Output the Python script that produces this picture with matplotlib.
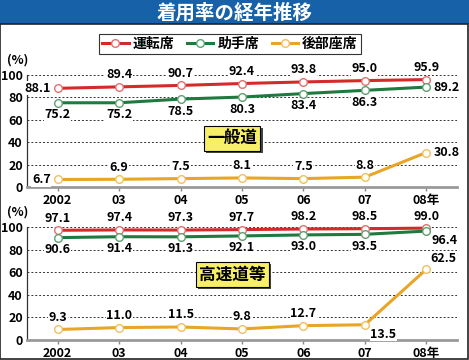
import matplotlib
matplotlib.use("Agg")
import matplotlib.pyplot as plt
import matplotlib.patheffects as pe
from matplotlib.lines import Line2D
from matplotlib.patches import Rectangle

plt.rcParams['font.family'] = ['Noto Sans CJK JP', 'DejaVu Sans']
plt.rcParams['font.weight'] = 'bold'

years = ["2002", "03", "04", "05", "06", "07", "08年"]
series_names = ["運転席", "助手席", "後部座席"]

general_driver = [88.1, 89.4, 90.7, 92.4, 93.8, 95.0, 95.9]
general_passenger = [75.2, 75.2, 78.5, 80.3, 83.4, 86.3, 89.2]
general_rear = [6.7, 6.9, 7.5, 8.1, 7.5, 8.8, 30.8]

highway_driver = [97.1, 97.4, 97.3, 97.7, 98.2, 98.5, 99.0]
highway_passenger = [90.6, 91.4, 91.3, 92.1, 93.0, 93.5, 96.4]
highway_rear = [9.3, 11.0, 11.5, 9.8, 12.7, 13.5, 62.5]

colors = ["#d42a2a", "#1e7a3e", "#e8a526"]
edge_colors = ["#e07070", "#5fa070", "#f0c060"]

# label placement: (dx points, dy points, ha, va)
A = (0, 4, "center", "bottom")
B = (0, -4, "center", "top")
L = (-5, 0, "right", "center")
R = (5, 0, "left", "center")
AR = (3, 3, "left", "bottom")
BR = (4, -2, "left", "top")

general_pos = [
    [L, A, A, A, A, A, A],
    [B, B, B, B, B, B, R],
    [L, A, A, A, A, A, R],
]
highway_pos = [
    [A, A, A, A, A, A, A],
    [B, B, B, B, B, B, BR],
    [A, A, A, A, A, BR, AR],
]

fig = plt.figure(figsize=(4.69, 3.6), dpi=100)

# title bar and frame
fig.patches.append(Rectangle((0, 1 - 24 / 360), 1, 24 / 360, transform=fig.transFigure,
                             facecolor="#1661a8", edgecolor="none", zorder=0))
fig.patches.append(Rectangle((0.001, 0.002), 0.997, 1 - 24 / 360 - 0.002, transform=fig.transFigure,
                             facecolor="none", edgecolor="#222222", lw=1.2, zorder=0))
fig.text(0.5, 1 - 13 / 360, "着用率の経年推移", color="white", fontsize=14,
         fontweight="bold", ha="center", va="center")

num_font = dict(fontsize=9, fontweight="bold",
                family=['Liberation Sans Narrow', 'Noto Sans CJK JP', 'DejaVu Sans'])


def draw_panel(ax, data, positions, label, label_y):
    x = list(range(len(years)))
    for i, vals in enumerate(data):
        ax.plot(x, vals, color=colors[i], lw=2.2, marker="o", ms=5.5,
                mfc="white", mec=edge_colors[i], mew=1.0, zorder=3, clip_on=False)
        for j, v in enumerate(vals):
            dx, dy, ha, va = positions[i][j]
            ax.annotate(f"{v:.1f}", (j, v), xytext=(dx, dy), textcoords="offset points",
                        ha=ha, va=va, zorder=4, **num_font,
                        bbox=dict(boxstyle="square,pad=0.05", fc="white", ec="none"))
    ax.set_xlim(-0.5, 6.5)
    ax.set_ylim(0, 100)
    ax.set_yticks([0, 20, 40, 60, 80, 100])
    ax.set_xticks(x)
    ax.set_xticklabels(years)
    for t in ax.get_xticklabels() + ax.get_yticklabels():
        t.set_fontsize(9)
        t.set_fontweight("bold")
    ax.tick_params(axis="y", length=0, pad=3)
    ax.tick_params(axis="x", length=3, width=1, color="#888888", pad=2)
    for y in [20, 40, 60, 80, 100]:
        ax.axhline(y, color="#333333", lw=0.7, ls=(0, (2, 2)), zorder=1)
    ax.spines["top"].set_visible(False)
    ax.spines["right"].set_visible(False)
    ax.spines["left"].set_color("#333333")
    ax.spines["left"].set_linewidth(0.9)
    ax.spines["bottom"].set_color("#999999")
    ax.spines["bottom"].set_linewidth(2)
    t = ax.text(2.84, label_y, label, fontsize=12, fontweight="bold", ha="center", va="center",
                zorder=5, bbox=dict(boxstyle="square,pad=0.2", fc="#f7ef66", ec="black", lw=0.8))
    t.get_bbox_patch().set_path_effects([pe.SimplePatchShadow(offset=(1.5, -1.5), shadow_rgbFace="#444444", alpha=1.0), pe.Normal()])
    ax.annotate("(%)", (0, 1), xycoords="axes fraction", xytext=(-7, 11), textcoords="offset points",
                fontsize=9, fontweight="bold", ha="center", va="center")


ax1 = fig.add_axes([27 / 469, 1 - 187 / 360, 430 / 469, 112 / 360])
draw_panel(ax1, [general_driver, general_passenger, general_rear], general_pos, "一般道", 43.5)

ax2 = fig.add_axes([27 / 469, 1 - 340 / 360, 430 / 469, 113 / 360])
draw_panel(ax2, [highway_driver, highway_passenger, highway_rear], highway_pos, "高速道等", 58)

handles = [Line2D([], [], color=colors[i], lw=2.2, marker="o", ms=5.5, mfc="white",
                  mec=edge_colors[i], mew=1.0) for i in range(3)]
leg = fig.legend(handles, series_names, loc="center", bbox_to_anchor=(230 / 469, 1 - 44 / 360),
                 ncol=3, frameon=True, fancybox=False, edgecolor="black", fontsize=10,
                 handlelength=1.9, columnspacing=0.9, handletextpad=0.3, borderpad=0.25)
leg.get_frame().set_linewidth(0.8)
for t in leg.get_texts():
    t.set_fontweight("bold")

fig.savefig("out.png", dpi=100)
